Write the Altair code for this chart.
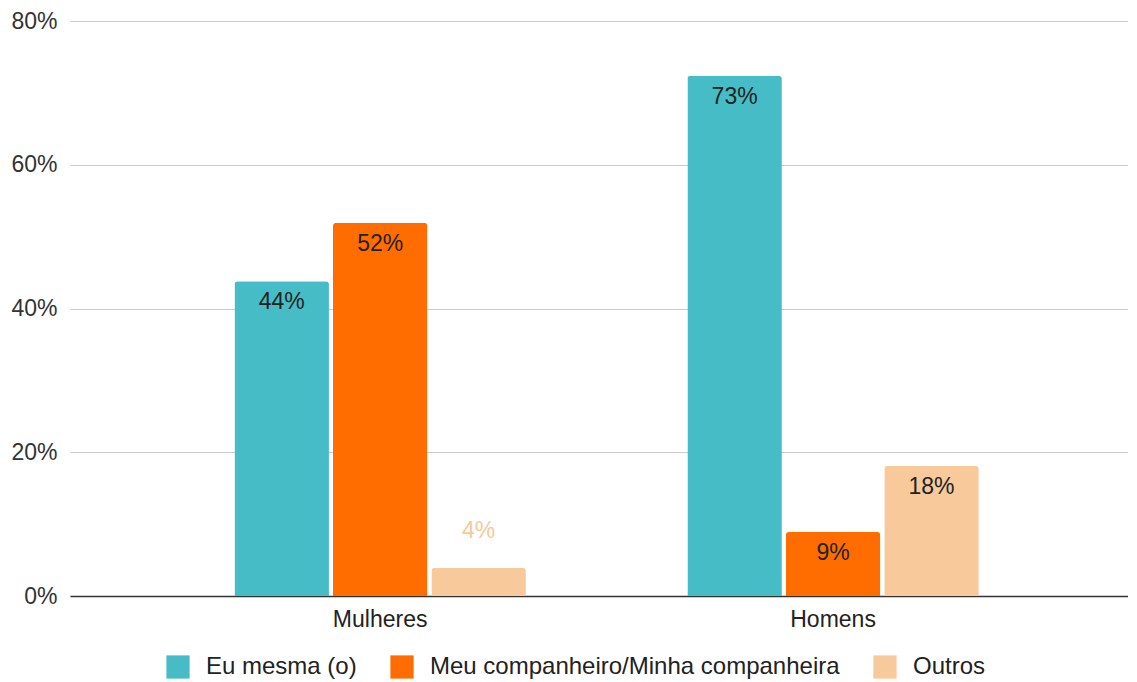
import altair as alt
import pandas as pd

groups = ["Mulheres", "Homens"]
series = ["Eu mesma (o)", "Meu companheiro/Minha companheira", "Outros"]
colors = ["#46BDC6", "#FF6D01", "#F8C99A"]
values_mulheres = [43.8, 51.9, 3.9]
values_homens = [72.4, 8.9, 18.1]
labels_mulheres = ["44%", "52%", "4%"]
labels_homens = ["73%", "9%", "18%"]

rows = []
for g, vals, labs in [("Mulheres", values_mulheres, labels_mulheres),
                      ("Homens", values_homens, labels_homens)]:
    for s, v, l in zip(series, vals, labs):
        rows.append({"grupo": g, "serie": s, "valor": v / 100.0, "rotulo": l})
df = pd.DataFrame(rows)

FONT = "Liberation Sans"
FS = 23

x = alt.X("grupo:N", sort=groups, title=None,
          scale=alt.Scale(paddingInner=0, paddingOuter=0.168, align=0.55),
          axis=alt.Axis(labelAngle=0, labelFontSize=FS, labelColor="#222222",
                        labelFont=FONT, ticks=False, domain=True, grid=False,
                        domainColor="#333333", domainWidth=1.5, labelPadding=12))
xo = alt.XOffset("serie:N", sort=series,
                 scale=alt.Scale(paddingInner=0.04, paddingOuter=0.82))
y = alt.Y("valor:Q", title=None,
          scale=alt.Scale(domain=[0, 0.8]),
          axis=alt.Axis(format=".0%", values=[0, 0.2, 0.4, 0.6, 0.8],
                        labelFontSize=FS, labelColor="#333333", labelFont=FONT,
                        ticks=False, domain=False, gridColor="#cccccc",
                        gridWidth=1.2, labelPadding=13))
color = alt.Color("serie:N", sort=series,
                  scale=alt.Scale(domain=series, range=colors),
                  legend=alt.Legend(orient="none", legendX=96, legendY=634,
                                    direction="horizontal",
                                    title=None, symbolType="square",
                                    symbolSize=540, symbolStrokeWidth=0,
                                    labelFontSize=24, labelFont=FONT,
                                    labelColor="#222222", labelLimit=600,
                                    labelOffset=16, columnPadding=33))

bars = alt.Chart(df).mark_bar(cornerRadiusTopLeft=3, cornerRadiusTopRight=3).encode(
    x=x, xOffset=xo, y=y, color=color)

inside = alt.Chart(df).transform_filter("datum.valor >= 0.05").mark_text(
    baseline="middle", dy=21, fontSize=FS, font=FONT, color="#222222"
).encode(x=x, xOffset=xo, y=y, text="rotulo:N")

outside = alt.Chart(df).transform_filter("datum.valor < 0.05").mark_text(
    baseline="middle", dy=-37, fontSize=FS, font=FONT
).encode(x=x, xOffset=xo, y=y, text="rotulo:N",
         color=alt.Color("serie:N", sort=series,
                         scale=alt.Scale(domain=series, range=colors), legend=None))

chart = alt.layer(bars, inside, outside).properties(
    width=1058, height=575,
    padding={"left": 2, "top": 2, "right": 0, "bottom": 0}
).configure(font=FONT).configure_view(stroke=None)

chart.save("out.html", embed_options={"renderer": "svg", "actions": False})
